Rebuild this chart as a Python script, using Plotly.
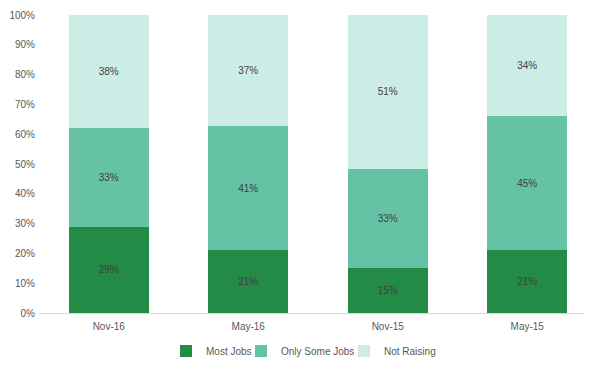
import plotly.graph_objects as go

categories = ["Nov-16", "May-16", "Nov-15", "May-15"]
most_jobs = [29, 21, 15, 21]
only_some_jobs = [33, 41, 33, 45]
not_raising = [38, 37, 51, 34]
y_ticks = [0, 10, 20, 30, 40, 50, 60, 70, 80, 90, 100]

series = [
    ("Most Jobs", most_jobs, "#238b45", "legend", 166),
    ("Only Some Jobs", only_some_jobs, "#66c2a4", "legend2", 241),
    ("Not Raising", not_raising, "#ccece6", "legend3", 344),
]

fig = go.Figure()
for name, vals, color, lg, _ in series:
    fig.add_trace(go.Bar(
        x=categories, y=vals, name=name, legend=lg,
        marker=dict(color=color, line=dict(width=0)),
        text=[f"{v}%" for v in vals],
        textposition="inside", insidetextanchor="middle",
        textfont=dict(color="#404040", size=10, family="Liberation Sans"),
        hoverinfo="skip",
    ))

L_MARGIN = 31
W_PLOT = 558.0
def px_to_paper(px):
    return (px - (L_MARGIN + 8)) / W_PLOT

leg_common = dict(orientation="h", yref="container", y=0.0628, yanchor="middle",
                  xanchor="left", font=dict(size=10, color="#595959"), itemwidth=30,
                  bgcolor="rgba(0,0,0,0)")

layout_legends = {}
for name, vals, color, lg, xpx in series:
    layout_legends[lg] = dict(x=px_to_paper(xpx), **leg_common)

fig.update_layout(
    barmode="stack", barnorm="percent", bargap=0.43,
    width=592, height=366,
    margin=dict(l=L_MARGIN, r=592 - L_MARGIN - W_PLOT, t=7, b=60.5, autoexpand=False),
    paper_bgcolor="white", plot_bgcolor="white",
    font=dict(family="Liberation Sans", size=10, color="#595959"),
    showlegend=True,
    uniformtext=dict(minsize=10, mode="show"),
    **layout_legends,
)
fig.update_xaxes(showgrid=False, showline=True, linecolor="#d9d9d9", linewidth=1,
                 ticks="", tickfont=dict(size=10, color="#595959"), range=[-0.5, 3.5],
                 ticklabelstandoff=4, automargin=False)
fig.update_yaxes(range=[0, 100], tickvals=y_ticks, ticktext=[f"{t}%" for t in y_ticks],
                 showgrid=False, zeroline=False, showline=False,
                 tickfont=dict(size=10, color="#595959"), ticklabelstandoff=3,
                 automargin=False)

fig.write_html("out.html")
